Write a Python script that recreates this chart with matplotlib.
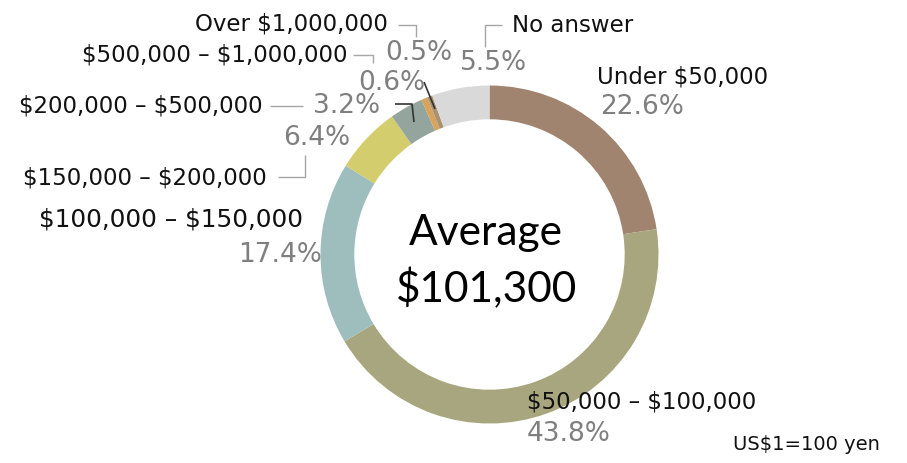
import matplotlib
matplotlib.use("Agg")
import matplotlib.pyplot as plt

categories = ["Under $50,000", "$50,000 – $100,000", "$100,000 – $150,000",
              "$150,000 – $200,000", "$200,000 – $500,000", "$500,000 – $1,000,000",
              "Over $1,000,000", "No answer"]
shares = [22.6, 43.8, 17.4, 6.4, 3.2, 0.6, 0.5, 5.5]
colors = ["#A08470", "#A8A67E", "#9DBEBD", "#D3CD6E", "#93A59C", "#D8A35A",
          "#A89272", "#D9D9D9"]
center_title = "Average"
center_value = "$101,300"
note = "US$1=100 yen"

W, H = 907, 463
fig = plt.figure(figsize=(W / 100, H / 100), dpi=100)
ax = fig.add_axes([0, 0, 1, 1])

cx, cy, R = 489.5, H - 254.5, 169
ax.pie(shares, colors=colors, startangle=90, counterclock=False,
       center=(cx, cy), radius=R,
       wedgeprops=dict(width=R * 0.2, linewidth=0))
ax.set_xlim(0, W)
ax.set_ylim(0, H)
ax.set_aspect("equal")
ax.axis("off")

LBL = dict(color="#111111", family="DejaVu Sans", va="center")
PCT = dict(fontsize=19, color="#7F7F7F", family="DejaVu Sans", va="center")


def T(x, y, s, **kw):
    ax.text(x, H - y, s, parse_math=False, **kw)


def L(pts, color="#A6A6A6", lw=1.0):
    xs = [p[0] for p in pts]
    ys = [H - p[1] for p in pts]
    ax.plot(xs, ys, color=color, lw=lw, solid_capstyle="butt")


# category labels (pixel layout: x, y, alignment, font size)
label_pos = {
    "Under $50,000": (597, 77, "left", 16.5),
    "$50,000 – $100,000": (527, 402, "left", 16.5),
    "$100,000 – $150,000": (303, 219, "right", 17.8),
    "$150,000 – $200,000": (267, 178, "right", 16.5),
    "$200,000 – $500,000": (263, 106, "right", 16.5),
    "$500,000 – $1,000,000": (347, 55, "right", 16.5),
    "Over $1,000,000": (388, 24, "right", 16.5),
    "No answer": (512, 25, "left", 16.5),
}
pct_pos = [(600, 107), (527, 434), (238, 255), (283, 138), (313, 106),
           (358, 83), (385, 53), (460, 63)]

for cat, v, (px, py) in zip(categories, shares, pct_pos):
    x, y, ha, fs = label_pos[cat]
    T(x, y, cat, ha=ha, fontsize=fs, **LBL)
    T(px, py, f"{v:.1f}%", ha="left", **PCT)

# leader lines
L([(398, 25), (416, 25), (416, 37)])
L([(353, 55), (373, 55), (373, 63)])
L([(270, 106), (303, 106)])
L([(278, 177), (305, 177), (305, 155)])
L([(502, 25), (485, 25), (485, 47)])
L([(395, 104), (412, 104), (414, 122)], color="#333333", lw=1.2)
L([(424, 82), (435, 109)], color="#333333", lw=1.2)

# center text
T(485.5, 245, center_title, ha="center", va="baseline", fontsize=30.5,
  family="Lato", color="#000000")
T(487, 302, center_value, ha="center", va="baseline", fontsize=30.5,
  family="Lato", color="#000000")

T(733, 445, note, ha="left", va="center", fontsize=14,
  family="DejaVu Sans", color="#111111")

fig.savefig("out.png", dpi=100)
